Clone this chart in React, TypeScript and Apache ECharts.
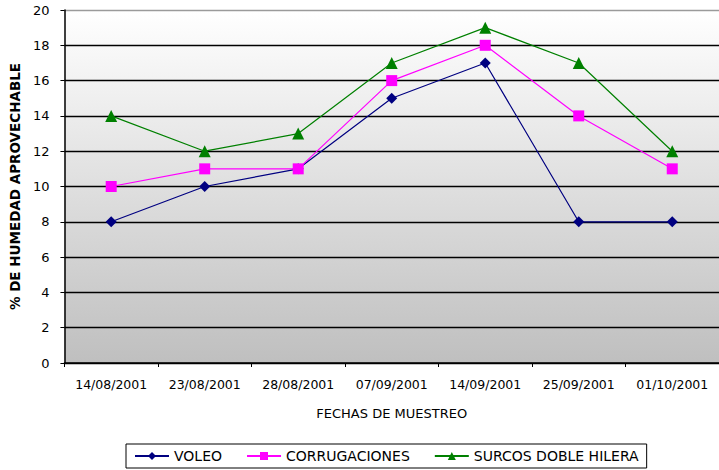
import React, { useEffect, useRef } from "react";
import * as echarts from "echarts";

const categories = ["14/08/2001", "23/08/2001", "28/08/2001", "07/09/2001", "14/09/2001", "25/09/2001", "01/10/2001"];
const voleo = [8, 10, 11, 15, 17, 8, 8];
const corrugaciones = [10, 11, 11, 16, 18, 14, 11];
const surcos = [14, 12, 13, 17, 19, 17, 12];
const seriesNames = ["VOLEO", "CORRUGACIONES", "SURCOS DOBLE HILERA"];
const yTicks = [0, 2, 4, 6, 8, 10, 12, 14, 16, 18, 20];

const FONT = "DejaVu Sans";

export default function App() {
  const ref = useRef<HTMLDivElement>(null);
  useEffect(() => {
    document.body.style.margin = "0";
    const chart = echarts.init(ref.current!, undefined, { renderer: "svg" });
    const gridColors = yTicks.map((t) => (t === 20 ? "#9a9a9a" : "#000000"));
    chart.setOption({
      animation: false,
      backgroundColor: "#ffffff",
      grid: {
        left: 61,
        top: 10,
        width: 665,
        height: 353,
        show: true,
        borderWidth: 0,
        backgroundColor: {
          type: "linear",
          x: 0, y: 0, x2: 0, y2: 1,
          colorStops: [
            { offset: 0, color: "#ffffff" },
            { offset: 1, color: "#bfbfbf" },
          ],
        },
      },
      xAxis: {
        type: "category",
        data: categories,
        boundaryGap: true,
        name: "FECHAS DE MUESTREO",
        nameLocation: "middle",
        nameGap: 44,
        nameTextStyle: { fontFamily: FONT, fontSize: 13, color: "#000" },
        axisLine: { lineStyle: { color: "#000", width: 1.5 } },
        axisTick: { show: true, length: 4, inside: false, lineStyle: { color: "#000" } },
        axisLabel: { fontFamily: FONT, fontSize: 12.5, color: "#000", margin: 15, interval: 0 },
        splitLine: { show: false },
      },
      yAxis: {
        type: "value",
        min: 0,
        max: 20,
        interval: 2,
        name: "% DE HUMEDAD APROVECHABLE",
        nameLocation: "middle",
        nameGap: 40,
        nameRotate: 90,
        nameTextStyle: { fontFamily: FONT, fontSize: 13.5, color: "#000", fontWeight: "bold" },
        axisLine: { show: true, lineStyle: { color: "#000", width: 1.5 } },
        axisTick: { show: true, length: 4, lineStyle: { color: "#000" } },
        axisLabel: { fontFamily: FONT, fontSize: 13, color: "#000", margin: 15 },
        splitLine: { show: true, lineStyle: { color: gridColors, width: 1.3 } },
      },
      legend: {
        data: seriesNames,
        bottom: 2,
        left: 126,
        itemWidth: 34,
        itemHeight: 10,
        itemGap: 24,
        padding: [5, 8],
        borderColor: "#000",
        borderWidth: 1,
        textStyle: { fontFamily: FONT, fontSize: 14, color: "#000" },
      },
      series: [
        {
          name: seriesNames[0],
          type: "line",
          data: voleo,
          symbol: "diamond",
          symbolSize: 11,
          itemStyle: { color: "#000080" },
          lineStyle: { color: "#000080", width: 1.2 },
        },
        {
          name: seriesNames[1],
          type: "line",
          data: corrugaciones,
          symbol: "rect",
          symbolSize: 11,
          itemStyle: { color: "#ff00ff" },
          lineStyle: { color: "#ff00ff", width: 1.2 },
        },
        {
          name: seriesNames[2],
          type: "line",
          data: surcos,
          symbol: "triangle",
          symbolSize: 12,
          itemStyle: { color: "#008000" },
          lineStyle: { color: "#008000", width: 1.2 },
        },
      ],
    });
    return () => chart.dispose();
  }, []);
  return <div ref={ref} style={{ width: 719, height: 470 }} />;
}
